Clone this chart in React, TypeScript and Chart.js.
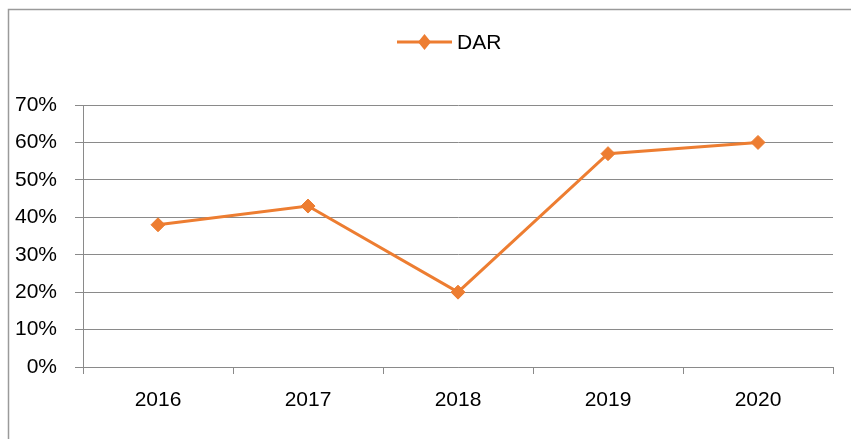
import React, { useEffect, useRef } from "react";
import { Chart, registerables } from "chart.js";

Chart.register(...registerables);

const categories = ["2016", "2017", "2018", "2019", "2020"];
const seriesName = "DAR";
const darValues = [0.38, 0.43, 0.2, 0.57, 0.6];
const yTickValues = [0, 0.1, 0.2, 0.3, 0.4, 0.5, 0.6, 0.7];

const ORANGE = "#ED7D31";
const GRID = "#8a8a8a";
const FONT = "'Liberation Sans', Arial, sans-serif";

const frameAndLegend = {
  id: "frameAndLegend",
  beforeDraw(chart: any) {
    const ctx = chart.ctx;
    ctx.save();
    ctx.fillStyle = "#ffffff";
    ctx.fillRect(0, 0, chart.width, chart.height);
    ctx.strokeStyle = "#9a9a9a";
    ctx.lineWidth = 1.5;
    ctx.beginPath();
    ctx.moveTo(8.5, chart.height);
    ctx.lineTo(8.5, 9.5);
    ctx.lineTo(chart.width, 9.5);
    ctx.stroke();
    ctx.restore();
  },
  afterDraw(chart: any) {
    const ctx = chart.ctx;
    const ds = chart.data.datasets[0];
    const x0 = 397;
    const y = 42;
    const lineW = 55;
    ctx.save();
    ctx.strokeStyle = ds.borderColor;
    ctx.lineWidth = 3;
    ctx.beginPath();
    ctx.moveTo(x0, y);
    ctx.lineTo(x0 + lineW, y);
    ctx.stroke();
    const cx = x0 + lineW / 2;
    ctx.fillStyle = ds.borderColor;
    ctx.beginPath();
    ctx.moveTo(cx, y - 8);
    ctx.lineTo(cx + 6.5, y);
    ctx.lineTo(cx, y + 8);
    ctx.lineTo(cx - 6.5, y);
    ctx.closePath();
    ctx.fill();
    ctx.fillStyle = "#000000";
    ctx.font = `21px ${FONT}`;
    ctx.textBaseline = "middle";
    ctx.textAlign = "left";
    ctx.fillText(ds.label, x0 + lineW + 5, y + 1);
    ctx.restore();
  },
};

export default function App() {
  const ref = useRef<HTMLCanvasElement | null>(null);
  useEffect(() => {
    if (!ref.current) return;
    const chart = new Chart(ref.current, {
      type: "line",
      data: {
        labels: categories,
        datasets: [
          {
            label: seriesName,
            data: darValues,
            borderColor: ORANGE,
            backgroundColor: ORANGE,
            borderWidth: 3,
            pointStyle: "rectRot",
            pointRadius: 7,
            pointBackgroundColor: ORANGE,
            pointBorderColor: ORANGE,
            pointBorderWidth: 1,
            tension: 0,
          },
        ],
      },
      options: {
        responsive: false,
        animation: false,
        layout: { padding: { top: 105, right: 18, bottom: 0, left: 0 } },
        plugins: {
          legend: { display: false },
          tooltip: { enabled: false },
        },
        scales: {
          x: {
            type: "category",
            offset: true,
            grid: {
              offset: true,
              drawOnChartArea: false,
              drawTicks: true,
              tickLength: 7,
              color: GRID,
              lineWidth: 1,
            },
            border: { display: true, color: GRID, width: 1 },
            ticks: {
              color: "#000000",
              font: { family: FONT, size: 21 },
              padding: 14,
              maxRotation: 0,
            },
            afterFit(scale: any) {
              scale.height = 72;
            },
          },
          y: {
            min: 0,
            max: 0.7,
            afterBuildTicks(scale: any) {
              scale.ticks = yTickValues.map((v) => ({ value: v }));
            },
            grid: {
              color: GRID,
              lineWidth: 1,
              drawTicks: true,
              tickLength: 8,
            },
            border: { display: true, color: GRID, width: 1 },
            ticks: {
              color: "#000000",
              font: { family: FONT, size: 21 },
              padding: 18,
              callback: (v: any) => `${Math.round(Number(v) * 100)}%`,
            },
            afterFit(scale: any) {
              scale.width = 83;
            },
          },
        },
      },
      plugins: [frameAndLegend],
    });
    return () => chart.destroy();
  }, []);
  return (
    <div style={{ position: "absolute", left: 0, top: 0, width: 851, height: 439 }}>
      <canvas ref={ref} width={851} height={439} style={{ display: "block" }} />
    </div>
  );
}
